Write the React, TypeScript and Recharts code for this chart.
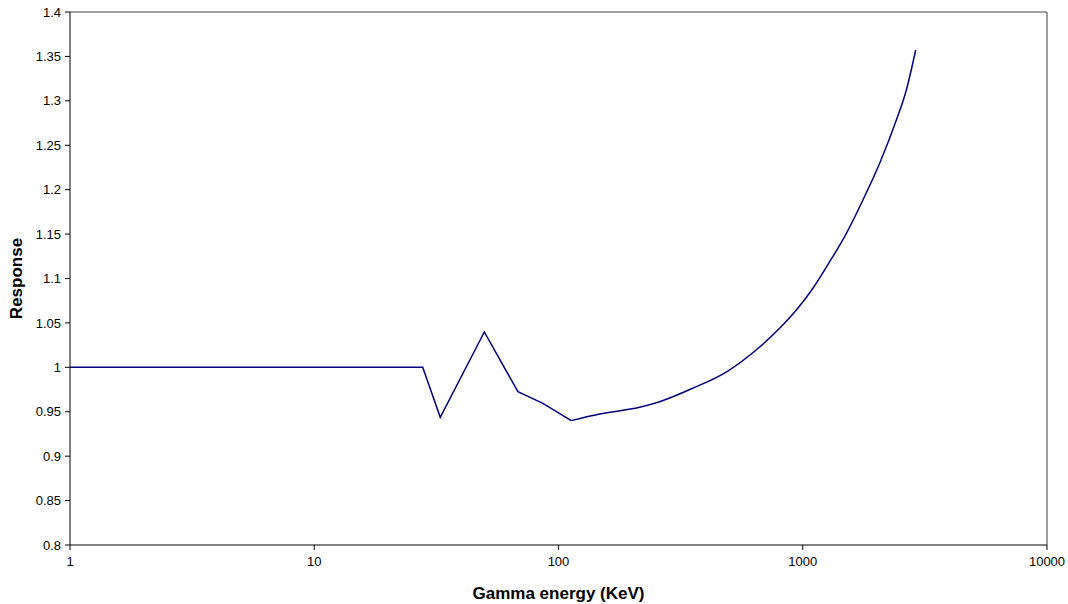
import React from 'react';
import { LineChart, Line, XAxis, YAxis, ReferenceLine, Label } from 'recharts';

// gamma energy (keV) and detector response
const energy = [1, 27.8, 32.8, 49.7, 68.2, 86.3, 112.8, 147.3, 214.8, 259.4, 354, 488, 666, 804, 941.5, 1101, 1289, 1509, 1764, 2065, 2417, 2656, 2900];
const response = [1.0, 1.0, 0.9437, 1.0398, 0.9726, 0.9595, 0.94, 0.9474, 0.955, 0.9613, 0.9764, 0.995, 1.0229, 1.0439, 1.0645, 1.089, 1.1189, 1.1509, 1.1884, 1.2297, 1.2784, 1.3122, 1.3572];

// the absorption-edge part is drawn straight, the rest as a smooth curve
const edgeEnd = 112.8;

const xTicks = [1, 10, 100, 1000, 10000];
const yTicks = [0.8, 0.85, 0.9, 0.95, 1, 1.05, 1.1, 1.15, 1.2, 1.25, 1.3, 1.35, 1.4];

const data = energy.map((e, i) => ({
    energy: e,
    edge: e <= edgeEnd ? response[i] : null,
    curve: e >= edgeEnd ? response[i] : null,
}));

const font = 'Arial, "Liberation Sans", sans-serif';
const tickStyle = { fontSize: 13, fill: '#000', fontFamily: font };
const titleStyle = { fontSize: 17, fontWeight: 'bold', fill: '#000', fontFamily: font };

const App = () => {
    return (
        <div style={{ position: 'absolute', left: 0, top: 0, background: '#fff' }}>
            <LineChart width={1068} height={604} data={data} margin={{ top: 12, right: 21, left: 10, bottom: 29 }}>
                <XAxis
                    dataKey="energy"
                    type="number"
                    scale="log"
                    domain={[1, 10000]}
                    ticks={xTicks}
                    allowDataOverflow
                    stroke="#000"
                    tickSize={5}
                    tickMargin={7}
                    tick={tickStyle}
                    height={30}
                >
                    <Label value="Gamma energy (KeV)" position="insideBottom" offset={-24} style={titleStyle} />
                </XAxis>
                <YAxis
                    type="number"
                    domain={[0.8, 1.4]}
                    ticks={yTicks}
                    allowDataOverflow
                    interval={0}
                    stroke="#000"
                    tickSize={5}
                    tickMargin={4}
                    tick={tickStyle}
                    width={60}
                    tickFormatter={(v: number) => String(+v.toFixed(2))}
                >
                    <Label
                        value="Response"
                        angle={-90}
                        position="insideLeft"
                        offset={6}
                        style={{ ...titleStyle, textAnchor: 'middle' }}
                    />
                </YAxis>
                <ReferenceLine y={1.4} stroke="#808080" strokeWidth={1.5} />
                <ReferenceLine x={10000} stroke="#808080" strokeWidth={1.5} />
                <Line
                    type="linear"
                    dataKey="edge"
                    stroke="#000080"
                    strokeWidth={1.5}
                    dot={false}
                    connectNulls={false}
                    isAnimationActive={false}
                />
                <Line
                    type="monotoneX"
                    dataKey="curve"
                    stroke="#000080"
                    strokeWidth={1.5}
                    dot={false}
                    connectNulls={false}
                    isAnimationActive={false}
                />
            </LineChart>
        </div>
    );
};

export default App;
